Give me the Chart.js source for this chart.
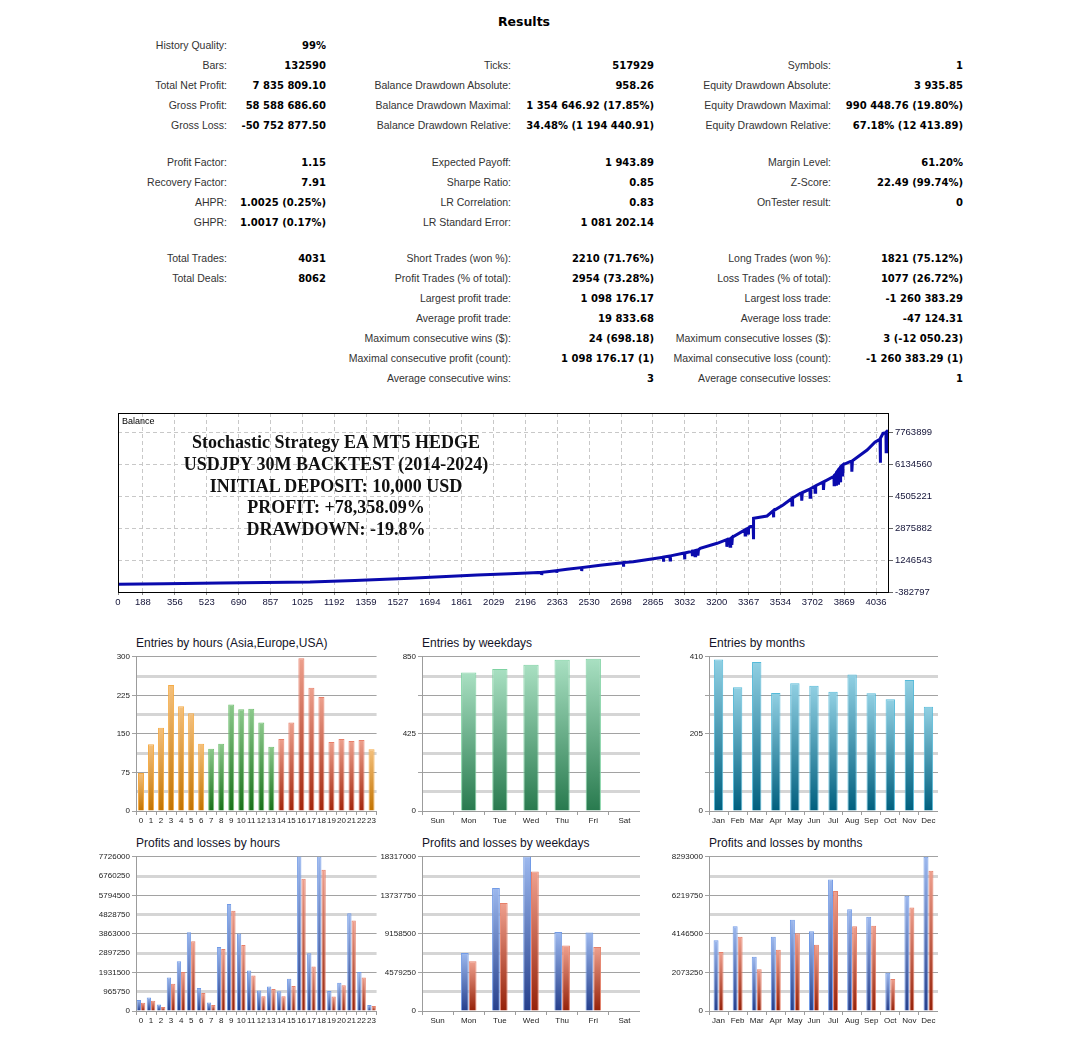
<!DOCTYPE html>
<html>
<head>
<meta charset="utf-8">
<title>Results</title>
<script src="https://cdn.jsdelivr.net/npm/chart.js@4.4.1/dist/chart.umd.min.js"></script>
<style>
  body { margin: 0; background: #fff; width: 1072px; height: 1049px; position: relative; overflow: hidden; font-family: "Liberation Sans", Arial, sans-serif; }
  .cell { position: absolute; white-space: nowrap; transform: translateY(-50%); text-align: right; }
  .lbl { font-size: 10.5px; color: #333; }
  .val { font-family: "DejaVu Sans", sans-serif; font-weight: bold; font-size: 10px; color: #000; }
  #title { position: absolute; left: 0; width: 1048px; top: 14px; text-align: center; font-family: "DejaVu Sans", sans-serif; font-weight: bold; font-size: 12.5px; }
  canvas { position: absolute; }
  #overlay { position: absolute; left: 136px; width: 400px; top: 432px; text-align: center; font-family: "Liberation Serif", serif; font-weight: bold; font-size: 18px; line-height: 21.8px; color: #111; }
  #balLabel { position: absolute; left: 122px; top: 416px; font-size: 9px; color: #000; }
  .ctitle { position: absolute; font-size: 12px; color: #141428; white-space: nowrap; }
</style>
</head>
<body>
<div id="title">Results</div>
<div id="table"></div>

<canvas id="balanceChart" width="880" height="215" style="left:100px;top:400px"></canvas>
<div id="balLabel">Balance</div>
<div id="overlay">Stochastic Strategy EA MT5 HEDGE<br>USDJPY 30M BACKTEST (2014-2024)<br>INITIAL DEPOSIT: 10,000 USD<br>PROFIT: +78,358.09%<br>DRAWDOWN: -19.8%</div>

<div class="ctitle" style="left:136px;top:636px">Entries by hours (Asia,Europe,USA)</div>
<div class="ctitle" style="left:422px;top:636px">Entries by weekdays</div>
<div class="ctitle" style="left:709px;top:636px">Entries by months</div>
<div class="ctitle" style="left:136px;top:836px">Profits and losses by hours</div>
<div class="ctitle" style="left:422px;top:836px">Profits and losses by weekdays</div>
<div class="ctitle" style="left:709px;top:836px">Profits and losses by months</div>

<canvas id="hourEntries" width="277" height="179" style="left:100px;top:650px"></canvas>
<canvas id="dayEntries" width="254" height="179" style="left:386px;top:650px"></canvas>
<canvas id="monthEntries" width="265" height="179" style="left:673px;top:650px"></canvas>
<canvas id="hourProfits" width="307" height="179" style="left:70px;top:850px"></canvas>
<canvas id="dayProfits" width="280" height="179" style="left:360px;top:850px"></canvas>
<canvas id="monthProfits" width="288" height="179" style="left:650px;top:850px"></canvas>

<script>
// ---- report table ----
const columnEdges = [227, 326, 511, 654, 831, 963];
const resultRows = [
  [45, ["History Quality:", "99%"], null, null],
  [65, ["Bars:", "132590"], ["Ticks:", "517929"], ["Symbols:", "1"]],
  [85, ["Total Net Profit:", "7 835 809.10"], ["Balance Drawdown Absolute:", "958.26"], ["Equity Drawdown Absolute:", "3 935.85"]],
  [105, ["Gross Profit:", "58 588 686.60"], ["Balance Drawdown Maximal:", "1 354 646.92 (17.85%)"], ["Equity Drawdown Maximal:", "990 448.76 (19.80%)"]],
  [125, ["Gross Loss:", "-50 752 877.50"], ["Balance Drawdown Relative:", "34.48% (1 194 440.91)"], ["Equity Drawdown Relative:", "67.18% (12 413.89)"]],
  [162, ["Profit Factor:", "1.15"], ["Expected Payoff:", "1 943.89"], ["Margin Level:", "61.20%"]],
  [182, ["Recovery Factor:", "7.91"], ["Sharpe Ratio:", "0.85"], ["Z-Score:", "22.49 (99.74%)"]],
  [202, ["AHPR:", "1.0025 (0.25%)"], ["LR Correlation:", "0.83"], ["OnTester result:", "0"]],
  [222, ["GHPR:", "1.0017 (0.17%)"], ["LR Standard Error:", "1 081 202.14"], null],
  [258, ["Total Trades:", "4031"], ["Short Trades (won %):", "2210 (71.76%)"], ["Long Trades (won %):", "1821 (75.12%)"]],
  [278, ["Total Deals:", "8062"], ["Profit Trades (% of total):", "2954 (73.28%)"], ["Loss Trades (% of total):", "1077 (26.72%)"]],
  [298, null, ["Largest profit trade:", "1 098 176.17"], ["Largest loss trade:", "-1 260 383.29"]],
  [318, null, ["Average profit trade:", "19 833.68"], ["Average loss trade:", "-47 124.31"]],
  [338, null, ["Maximum consecutive wins ($):", "24 (698.18)"], ["Maximum consecutive losses ($):", "3 (-12 050.23)"]],
  [358, null, ["Maximal consecutive profit (count):", "1 098 176.17 (1)"], ["Maximal consecutive loss (count):", "-1 260 383.29 (1)"]],
  [378, null, ["Average consecutive wins:", "3"], ["Average consecutive losses:", "1"]],
];

let table = document.getElementById("table");
resultRows.forEach((row) => {
  let y = row[0];
  for (let c = 0; c < 3; c++) {
    let pair = row[c + 1];
    if (!pair) continue;
    let lbl = document.createElement("div");
    lbl.className = "cell lbl";
    lbl.style.right = 1072 - columnEdges[c * 2] + "px";
    lbl.style.top = y + "px";
    lbl.textContent = pair[0];
    table.appendChild(lbl);
    let val = document.createElement("div");
    val.className = "cell val";
    val.style.right = 1072 - columnEdges[c * 2 + 1] + "px";
    val.style.top = y + "px";
    val.textContent = pair[1];
    table.appendChild(val);
  }
});

// ---- balance curve ----
const balanceTrades = [0, 300, 593, 1065, 1300, 1590, 1942, 2115, 2236, 2280, 2281, 2283, 2359, 2360, 2362, 2414,
  2490, 2491, 2493, 2588, 2709, 2710, 2712, 2761, 2919, 2920, 2922, 2954, 2955, 2957, 3023, 3030, 3031, 3033,
  3070, 3071, 3074, 3085, 3086, 3089, 3100, 3101, 3104, 3113, 3202, 3252, 3253, 3256, 3269, 3270, 3273, 3278,
  3279, 3282, 3286, 3348, 3349, 3352, 3364, 3365, 3368, 3375, 3391, 3392, 3394, 3464, 3496, 3497, 3500, 3548,
  3594, 3595, 3598, 3638, 3645, 3646, 3649, 3689, 3690, 3693, 3715, 3716, 3719, 3727, 3759, 3760, 3763, 3811,
  3815, 3816, 3818, 3825, 3826, 3828, 3836, 3837, 3839, 3848, 3849, 3851, 3860, 3861, 3863, 3900, 3908, 3909,
  3912, 3989, 4030, 4057, 4058, 4060, 4073, 4088, 4089, 4091, 4099];
const balanceValues = [10000, 38000, 70000, 126000, 205000, 315000, 483000, 549000, 600000, 615000, 483000, 618000, 705000, 600000, 710000, 773000,
  860000, 686000, 865000, 977000, 1110000, 905000, 1115000, 1160000, 1390000, 1160000, 1395000, 1450000, 1250000, 1455000, 1588000, 1600000, 1280000, 1605000,
  1690000, 1450000, 1700000, 1720000, 1460000, 1730000, 1760000, 1470000, 1770000, 1842000, 2097000, 2280000, 1920000, 2290000, 2320000, 1950000, 2340000, 2380000,
  2010000, 2400000, 2433000, 2780000, 2520000, 2800000, 2860000, 2540000, 2880000, 2942000, 2990000, 2300000, 3370000, 3487000, 3750000, 3420000, 3760000, 4047000,
  4380000, 4050000, 4400000, 4643000, 4660000, 4270000, 4680000, 4860000, 4440000, 4880000, 5000000, 4690000, 5020000, 5065000, 5220000, 4810000, 5240000, 5488000,
  5520000, 5080000, 5560000, 5620000, 5100000, 5700000, 5800000, 5150000, 5850000, 5950000, 5200000, 6000000, 6080000, 5500000, 6100000, 6252000, 6280000, 5740000,
  6300000, 6847000, 7250000, 7400000, 6200000, 7450000, 7698000, 7730000, 6760000, 7780000, 7845809];

const balanceYTicks = [-382797, 1246543, 2875882, 4505221, 6134560, 7763899];
const balanceXTickValues = [57, 188, 356, 523, 690, 857, 1025, 1192, 1359, 1527, 1694, 1861, 2029, 2196, 2363, 2530, 2698, 2865, 3032, 3200, 3367, 3534, 3702, 3869, 4036];
const balanceXTickLabels = ["0", "188", "356", "523", "690", "857", "1025", "1192", "1359", "1527", "1694", "1861", "2029", "2196", "2363", "2530", "2698", "2865", "3032", "3200", "3367", "3534", "3702", "3869", "4036"];

const framePlugin = {
  id: "frame",
  afterDatasetsDraw(chart) {
    let a = chart.chartArea;
    let ctx = chart.ctx;
    ctx.save();
    ctx.strokeStyle = "#000";
    ctx.lineWidth = 1;
    ctx.strokeRect(a.left + 0.5, a.top + 0.5, a.right - a.left - 1, a.bottom - a.top);
    ctx.restore();
  },
};

new Chart(document.getElementById("balanceChart"), {
  type: "line",
  data: {
    datasets: [{
      data: balanceTrades.map((t, i) => ({ x: t, y: balanceValues[i] })),
      borderColor: "#0a0aad",
      borderWidth: 3,
      pointRadius: 0,
      tension: 0,
    }],
  },
  options: {
    responsive: false,
    animation: false,
    layout: { padding: { left: 18, top: 13, right: 0, bottom: 0 } },
    plugins: { legend: { display: false }, tooltip: { enabled: false } },
    scales: {
      x: {
        type: "linear",
        min: 57,
        max: 4104,
        afterBuildTicks: (s) => { s.ticks = balanceXTickValues.map((v) => ({ value: v })); },
        afterFit: (s) => { s.height = 23; },
        ticks: {
          autoSkip: false,
          maxRotation: 0,
          callback: (v, i) => balanceXTickLabels[i],
          font: { family: "Liberation Sans", size: 9.5 },
          color: "#141438",
          padding: 2,
        },
        grid: { color: "#c8c8c8", tickLength: 3, tickColor: "#888" },
        border: { display: false, dash: [4, 3] },
      },
      y: {
        position: "right",
        min: -382797,
        max: 8731346,
        afterBuildTicks: (s) => { s.ticks = balanceYTicks.map((v) => ({ value: v })); },
        afterFit: (s) => { s.width = 91; },
        ticks: {
          autoSkip: false,
          callback: (v) => String(v),
          font: { family: "Liberation Sans", size: 9.5 },
          color: "#141438",
          padding: 2,
        },
        grid: { color: "#c8c8c8", tickLength: 4, tickColor: "#666" },
        border: { display: false, dash: [4, 3] },
      },
    },
  },
  plugins: [framePlugin],
});

// ---- distribution charts ----
const hours = ["0", "1", "2", "3", "4", "5", "6", "7", "8", "9", "10", "11", "12", "13", "14", "15", "16", "17", "18", "19", "20", "21", "22", "23"];
const weekdays = ["Sun", "Mon", "Tue", "Wed", "Thu", "Fri", "Sat"];
const months = ["Jan", "Feb", "Mar", "Apr", "May", "Jun", "Jul", "Aug", "Sep", "Oct", "Nov", "Dec"];

// session of each hour: a = Asia, e = Europe, u = USA
const hourSessions = ["a", "a", "a", "a", "a", "a", "a", "e", "e", "e", "e", "e", "e", "e", "u", "u", "u", "u", "u", "u", "u", "u", "u", "a"];
const hourEntries = [74, 130, 162, 245, 204, 190, 131, 121, 131, 207, 198, 199, 172, 125, 140, 172, 297, 240, 222, 134, 140, 136, 138, 120];
const dayEntries = [0, 763, 783, 806, 834, 839, 0];
const monthEntries = [403, 329, 396, 314, 340, 333, 317, 363, 313, 297, 348, 277];

const hourProfit = [545000, 677000, 330000, 1684000, 2493000, 3946000, 1156000, 429000, 3203000, 5365000, 3880000, 2031000, 1024000, 1222000, 991000, 1618000, 7790000, 2889000, 7740000, 1007000, 1420000, 4903000, 1948000, 297000];
const hourLoss = [413000, 512000, 198000, 1370000, 1948000, 3500000, 908000, 297000, 3104000, 5019000, 3302000, 1783000, 743000, 1106000, 743000, 1255000, 6620000, 2229000, 7082000, 726000, 1288000, 4540000, 1684000, 248000];
const dayProfit = [0, 6888000, 14599000, 18390000, 9393000, 9315000, 0];
const dayLoss = [0, 5910000, 12838000, 16556000, 7789000, 7593000, 0];
const monthProfit = [3810000, 4554000, 2924000, 3987000, 4909000, 4288000, 7070000, 5476000, 5068000, 2056000, 6202000, 8293000];
const monthLoss = [3172000, 3987000, 2250000, 3296000, 4182000, 3562000, 6450000, 4554000, 4590000, 1719000, 5564000, 7549000];

// grid lines and which of them carry a label
const hourEntryGrid = [0, 37.5, 75, 112.5, 150, 187.5, 225, 262.5, 300];
const hourEntryLabels = [0, 75, 150, 225, 300];
const dayEntryGrid = [0, 106.25, 212.5, 318.75, 425, 531.25, 637.5, 743.75, 850];
const dayEntryLabels = [0, 425, 850];
const monthEntryGrid = [0, 51.25, 102.5, 153.75, 205, 256.25, 307.5, 358.75, 410];
const monthEntryLabels = [0, 205, 410];
const hourProfitGrid = [0, 965750, 1931500, 2897250, 3863000, 4828750, 5794500, 6760250, 7726000];
const hourProfitLabels = hourProfitGrid;
const dayProfitGrid = [0, 2289625, 4579250, 6868875, 9158500, 11448125, 13737750, 16027375, 18317000];
const dayProfitLabels = [0, 4579250, 9158500, 13737750, 18317000];
const monthProfitGrid = [0, 1036625, 2073250, 3109875, 4146500, 5183125, 6219750, 7256375, 8293000];
const monthProfitLabels = [0, 2073250, 4146500, 6219750, 8293000];

const palette = {
  a: { top: "#f4c07c", bottom: "#c27300", line: "#f5ab45" },
  e: { top: "#8cc98c", bottom: "#187019", line: "#72c172" },
  u: { top: "#eda08d", bottom: "#a2250b", line: "#e8806b" },
  day: { top: "#a9e0c2", bottom: "#287a4e", line: "#7ed2a2" },
  month: { top: "#91d0e3", bottom: "#005f7e", line: "#55bad9" },
  profit: { top: "#9cb8ee", bottom: "#253f8c", line: "#729be6" },
  loss: { top: "#efa08e", bottom: "#952108", line: "#e6806a" },
};

function barGradient(pick) {
  return function (c) {
    let chart = c.chart;
    let area = chart.chartArea;
    let col = pick(c.dataIndex);
    if (!area || c.raw == null) return col.bottom;
    let y = chart.scales.y;
    let bottom = y.getPixelForValue(0);
    let top = Math.max(y.getPixelForValue(c.raw), area.top);
    if (bottom - top < 1) top = bottom - 1;
    let g = chart.ctx.createLinearGradient(0, top, 0, bottom);
    g.addColorStop(0, col.top);
    g.addColorStop(1, col.bottom);
    return g;
  };
}

function makeDataset(values, pick, extra) {
  return Object.assign({
    data: values,
    backgroundColor: barGradient(pick),
    borderColor: (c) => pick(c.dataIndex).line,
    borderWidth: 1,
  }, extra);
}

function smallChart(id, labels, datasets, grid, gridLabels, yWidth, barOpts) {
  new Chart(document.getElementById(id), {
    type: "bar",
    data: { labels: labels, datasets: datasets },
    options: Object.assign({
      responsive: false,
      animation: false,
      layout: { padding: { top: 5, right: 0, left: 0, bottom: 0 } },
      plugins: { legend: { display: false }, tooltip: { enabled: false } },
      scales: {
        x: {
          afterFit: (s) => { s.height = 18; },
          ticks: { autoSkip: false, maxRotation: 0, font: { family: "Liberation Sans", size: 8 }, color: "#222", padding: 1 },
          grid: { drawOnChartArea: false, tickLength: 4, color: "#9c9c9c", offset: true },
          border: { color: "#9c9c9c" },
        },
        y: {
          min: 0,
          max: grid[grid.length - 1],
          afterBuildTicks: (s) => { s.ticks = grid.map((v) => ({ value: v })); },
          afterFit: (s) => { s.width = yWidth; },
          ticks: {
            autoSkip: false,
            font: { family: "Liberation Sans", size: 8 },
            color: "#222",
            padding: 2,
            callback: (v) => (gridLabels.includes(v) ? String(v) : ""),
          },
          grid: {
            color: (c) => (c.index % 2 ? "#d5d5d5" : "#a2a2a2"),
            lineWidth: (c) => (c.index % 2 ? 3 : 1),
            tickLength: 4,
            tickColor: (c) => (c.index % 2 ? "rgba(0,0,0,0)" : "#a2a2a2"),
          },
          border: { color: "#9c9c9c" },
        },
      },
    }, barOpts),
  });
}

smallChart("hourEntries", hours,
  [makeDataset(hourEntries, (i) => palette[hourSessions[i]])],
  hourEntryGrid, hourEntryLabels, 36, { categoryPercentage: 1, barPercentage: 0.6 });
smallChart("dayEntries", weekdays,
  [makeDataset(dayEntries, () => palette.day)],
  dayEntryGrid, dayEntryLabels, 36, { categoryPercentage: 1, barPercentage: 0.49 });
smallChart("monthEntries", months,
  [makeDataset(monthEntries, () => palette.month)],
  monthEntryGrid, monthEntryLabels, 36, { categoryPercentage: 1, barPercentage: 0.49 });

smallChart("hourProfits", hours,
  [makeDataset(hourProfit, () => palette.profit), makeDataset(hourLoss, () => palette.loss)],
  hourProfitGrid, hourProfitLabels, 66, { categoryPercentage: 0.86, barPercentage: 1 });
smallChart("dayProfits", weekdays,
  [makeDataset(dayProfit, () => palette.profit), makeDataset(dayLoss, () => palette.loss)],
  dayProfitGrid, dayProfitLabels, 62, { categoryPercentage: 0.5, barPercentage: 1 });
smallChart("monthProfits", months,
  [makeDataset(monthProfit, () => palette.profit), makeDataset(monthLoss, () => palette.loss)],
  monthProfitGrid, monthProfitLabels, 59, { categoryPercentage: 0.52, barPercentage: 1 });
</script>
</body>
</html>
